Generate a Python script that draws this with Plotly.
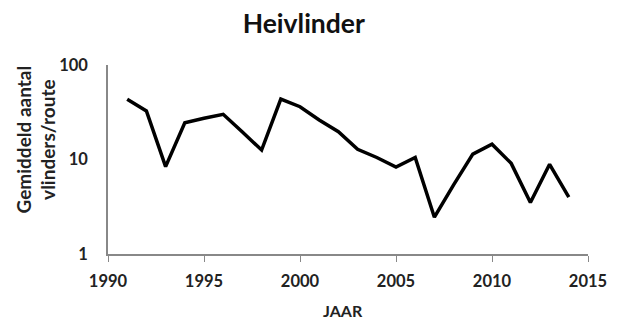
import plotly.graph_objects as go

years = list(range(1991, 2015))
counts = [43.4, 32.6, 8.4, 24.5, 27.3, 30.1, 19.5, 12.6, 43.6, 36.2, 26.2, 19.7,
          12.8, 10.5, 8.3, 10.5, 2.45, 5.4, 11.4, 14.5, 9.1, 3.5, 8.9, 4.0]

x_ticks = [1990, 1995, 2000, 2005, 2010, 2015]
y_ticks = [1, 10, 100]

font_family = "Lato, 'Open Sans', sans-serif"
text_color = "#222"

fig = go.Figure(
    go.Scatter(
        x=years, y=counts, mode="lines",
        line=dict(color="black", width=3.5),
        showlegend=False,
    )
)

fig.update_layout(
    width=620, height=322,
    margin=dict(l=108, r=32, t=65, b=68),
    paper_bgcolor="white", plot_bgcolor="white",
    font=dict(family=font_family, color=text_color),
    title=dict(
        text="<b>Heivlinder</b>", x=0.49, xanchor="center",
        y=0.925, yanchor="middle",
        font=dict(size=26.5, family=font_family, color="#111"),
    ),
)

fig.update_xaxes(
    range=[1990, 2015], tickvals=x_ticks,
    ticktext=[f"<b>{v}</b>" for v in x_ticks],
    tickfont=dict(size=16.5, color=text_color),
    showline=True, linecolor="#888", linewidth=1.5,
    ticks="outside", ticklen=6, tickcolor="#888",
    ticklabelstandoff=5,
    showgrid=False, zeroline=False,
)

# invisible long ticks push the y labels away from the axis line
fig.update_yaxes(
    type="log", range=[0, 2], tickvals=y_ticks,
    ticktext=[f"<b>{v}</b>" for v in y_ticks],
    tickfont=dict(size=16.5, color=text_color),
    showline=True, linecolor="#888", linewidth=1.5,
    ticks="outside", ticklen=15, tickcolor="rgba(0,0,0,0)",
    showgrid=False, zeroline=False,
)

# Axis titles placed as annotations in pixel offsets from the plot area
fig.add_annotation(
    text="<b>JAAR</b>", xref="paper", yref="paper", x=0.49, y=0,
    xanchor="center", yanchor="middle", yshift=-56, showarrow=False,
    font=dict(size=16, color=text_color),
)
fig.add_annotation(
    text="<b>Gemiddeld aantal<br>vlinders/route</b>", xref="paper", yref="paper",
    x=0, y=0.5, xanchor="center", yanchor="middle", xshift=-73, yshift=20,
    textangle=-90, showarrow=False,
    font=dict(size=19, color=text_color),
)

fig.write_html("out.html")
